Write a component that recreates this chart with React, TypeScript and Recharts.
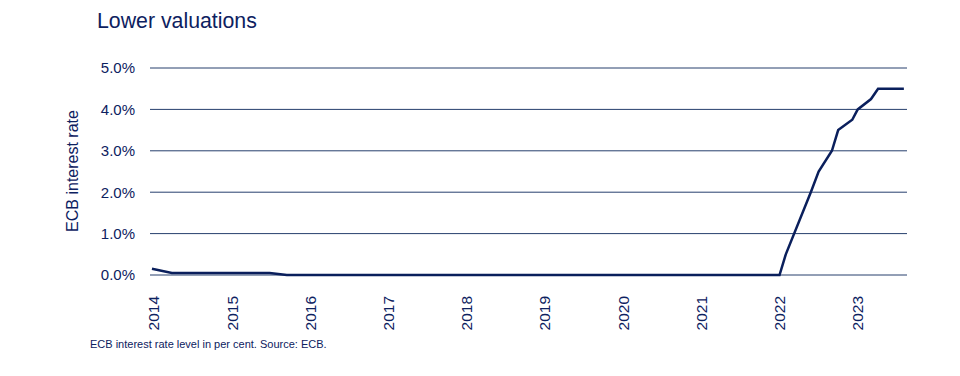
import React from "react";
import { LineChart, Line, XAxis, YAxis, CartesianGrid } from "recharts";

const years: number[] = [
  2013.975, 2014.23, 2015.48, 2015.7, 2022.0, 2022.08, 2022.4, 2022.5, 2022.67,
  2022.75, 2022.93, 2023.0, 2023.17, 2023.26, 2023.59,
];
const rates: number[] = [
  0.15, 0.05, 0.05, 0.0, 0.0, 0.5, 2.0, 2.5, 3.0, 3.5, 3.75, 4.0, 4.25, 4.5, 4.5,
];
const xTicks: number[] = [2014, 2015, 2016, 2017, 2018, 2019, 2020, 2021, 2022, 2023];
const yTicks: number[] = [0, 1, 2, 3, 4, 5];

const title = "Lower valuations";
const yLabel = "ECB interest rate";
const footnote = "ECB interest rate level in per cent. Source: ECB.";

const data = years.map((y, i) => ({ t: y, rate: rates[i] }));

const TEXT = "#0d2160";
const LINE = "#0a1f5c";
const GRID = "#263f6d";
const FONT = "'Liberation Sans', Arial, sans-serif";

const XTick = (props: any) => {
  const { x, y, payload } = props;
  return (
    <text
      x={0}
      y={0}
      transform={`translate(${x},${y + 13}) rotate(-90)`}
      textAnchor="end"
      dominantBaseline="central"
      fill={TEXT}
      fontSize={15.5}
      fontFamily={FONT}
    >
      {payload.value}
    </text>
  );
};

export default function App() {
  return (
    <div
      style={{
        position: "absolute",
        left: 0,
        top: 0,
        width: 960,
        height: 376,
        background: "#fff",
        fontFamily: FONT,
      }}
    >
      <div
        style={{
          position: "absolute",
          left: 97,
          top: 9,
          fontSize: 21.3,
          color: TEXT,
          whiteSpace: "nowrap",
        }}
      >
        {title}
      </div>
      <div
        style={{
          position: "absolute",
          left: 73,
          top: 171,
          transform: "translate(-50%, -50%) rotate(-90deg)",
          fontSize: 16,
          color: TEXT,
          whiteSpace: "nowrap",
        }}
      >
        {yLabel}
      </div>
      <div
        style={{
          position: "absolute",
          left: 90,
          top: 338,
          fontSize: 11,
          color: TEXT,
          whiteSpace: "nowrap",
        }}
      >
        {footnote}
      </div>
      <div style={{ position: "absolute", left: 0, top: 0 }}>
        <LineChart
          width={960}
          height={376}
          data={data}
          margin={{ top: 68, right: 53, bottom: 60, left: 90 }}
        >
          <CartesianGrid vertical={false} stroke={GRID} strokeWidth={1} />
          <XAxis
            dataKey="t"
            type="number"
            domain={[2013.95, 2023.63]}
            ticks={xTicks}
            interval={0}
            tick={<XTick />}
            tickLine={false}
            axisLine={false}
            height={41}
            allowDataOverflow
          />
          <YAxis
            type="number"
            domain={[0, 5]}
            ticks={yTicks}
            width={60}
            tickLine={false}
            axisLine={false}
            tickSize={0}
            tickMargin={15}
            tickFormatter={(v: number) => `${v.toFixed(1)}%`}
            tick={{ fill: TEXT, fontSize: 15, fontFamily: FONT }}
          />
          <Line
            type="linear"
            dataKey="rate"
            stroke={LINE}
            strokeWidth={2.5}
            dot={false}
            isAnimationActive={false}
          />
        </LineChart>
      </div>
    </div>
  );
}
